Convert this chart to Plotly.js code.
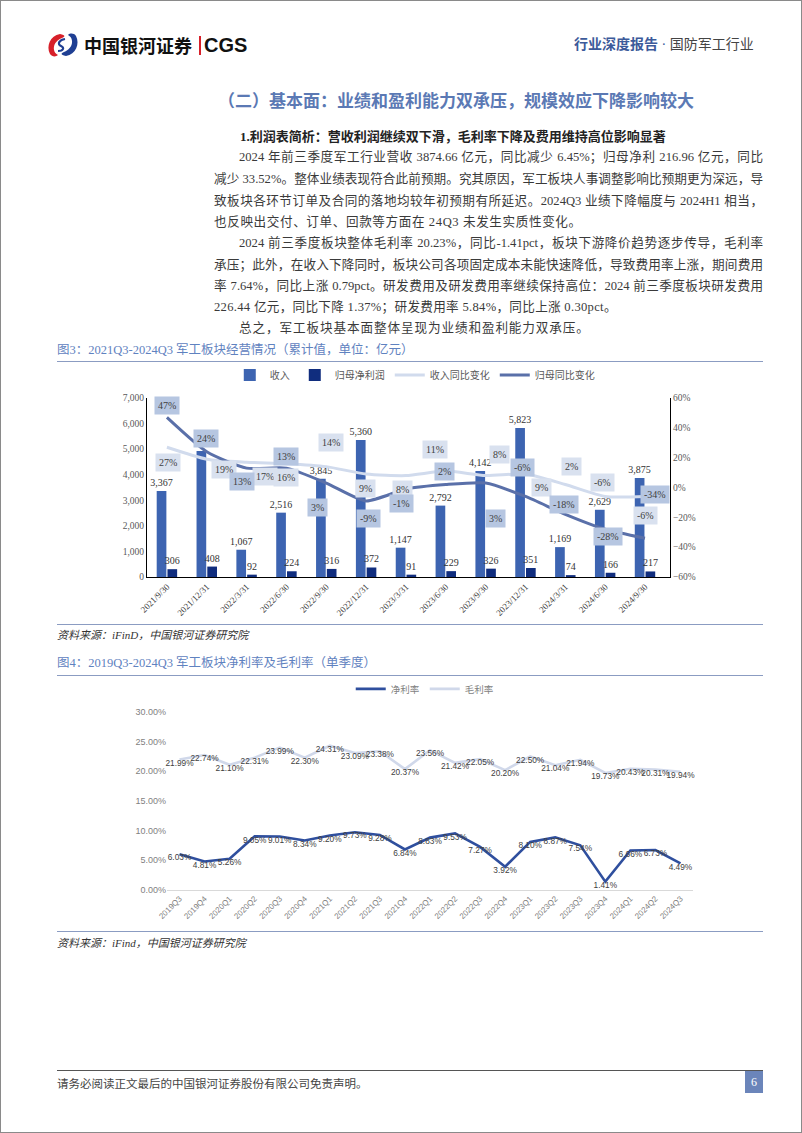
<!DOCTYPE html>
<html>
<head>
<meta charset="utf-8">
<script src="https://cdn.plot.ly/plotly-3.0.1.min.js"></script>
<style>
  html, body { margin: 0; padding: 0; background: #fff; }
  #page { position: relative; width: 802px; height: 1133px; overflow: hidden;
          font-family: "Liberation Serif", "Noto Sans CJK SC", serif; color: #333; }
  #frame { position: absolute; left: 0; top: 0; width: 800px; height: 1131px; border: 1px solid #8a8a8a; }
  .abs { position: absolute; white-space: nowrap; }
  .ln { position: absolute; font-size: 12.6px; line-height: 16px; color: #3a3a3a; white-space: nowrap; }
  .j { text-align: justify; text-align-last: justify; white-space: normal; }
  .rule { position: absolute; left: 57px; width: 706px; height: 0; border-top: 1.5px solid #8b9cc2; }
  .figt { position: absolute; left: 57px; font-size: 12.5px; line-height: 16px; color: #5f82c0; }
  .src { position: absolute; left: 57px; font-size: 11px; line-height: 14px; color: #333; font-style: italic; }
  .chart { position: absolute; left: 0; }
</style>
</head>
<body>
<div id="page">
  <div id="frame"></div>

  <!-- header -->
  <svg class="abs" style="left:46px; top:32px" width="34" height="26" viewBox="0 0 34 26">
    <path d="M14 2 C4 4 0 14 4 22 C6 25 10 25 12 23 C6 20 6 10 16 6 C19 5 20 3 14 2 Z" fill="#d7202a"/>
    <path d="M20 24 C30 22 34 12 30 4 C28 1 24 1 22 3 C28 6 28 16 18 20 C15 21 14 23 20 24 Z" fill="#1f3f93"/>
    <path d="M19 7 C13 8 11 12 15 14 C19 16 17 19 12 19" stroke="#1f3f93" stroke-width="2.2" fill="none"/>
  </svg>
  <div class="abs" style="left:84px; top:33px; font:bold 18px 'Noto Sans CJK SC'; line-height:24px; color:#111">中国银河证券</div>
  <div class="abs" style="left:199px; top:36px; width:1.5px; height:19px; background:#d7202a"></div>
  <div class="abs" style="left:204px; top:32px; font:bold 20px 'Liberation Sans'; line-height:26px; color:#111">CGS</div>
  <div class="abs" style="left:574px; top:36px; font-size:14px; line-height:18px">
    <span style="color:#3c5a9a; font-weight:bold">行业深度报告</span><span style="color:#3c5a9a"> · </span><span style="color:#444">国防军工行业</span>
  </div>

  <!-- section text -->
  <div class="abs" style="left:218px; top:91px; font-size:17px; line-height:22px; font-weight:bold; color:#5b79b4">（二）基本面：业绩和盈利能力双承压，规模效应下降影响较大</div>
  <div class="abs" style="left:240px; top:128px; font-size:13px; line-height:17px; font-weight:bold; color:#222">1.利润表简析：营收利润继续双下滑，毛利率下降及费用维持高位影响显著</div>

  <div class="ln j" style="left:239px; width:524px; top:149px">2024 年前三季度军工行业营收 3874.66 亿元，同比减少 6.45%；归母净利 216.96 亿元，同比</div>
  <div class="ln j" style="left:214px; width:549px; top:171px">减少 33.52%。整体业绩表现符合此前预期。究其原因，军工板块人事调整影响比预期更为深远，导</div>
  <div class="ln j" style="left:214px; width:549px; top:193px">致板块各环节订单及合同的落地均较年初预期有所延迟。2024Q3 业绩下降幅度与 2024H1 相当，</div>
  <div class="ln" style="left:214px; top:214px; letter-spacing:0.6px">也反映出交付、订单、回款等方面在 24Q3 未发生实质性变化。</div>
  <div class="ln j" style="left:239px; width:524px; top:235px">2024 前三季度板块整体毛利率 20.23%，同比-1.41pct，板块下游降价趋势逐步传导，毛利率</div>
  <div class="ln j" style="left:214px; width:549px; top:257px">承压；此外，在收入下降同时，板块公司各项固定成本未能快速降低，导致费用率上涨，期间费用</div>
  <div class="ln j" style="left:214px; width:549px; top:278px">率 7.64%，同比上涨 0.79pct。研发费用及研发费用率继续保持高位：2024 前三季度板块研发费用</div>
  <div class="ln" style="left:214px; top:299px; letter-spacing:0.3px">226.44 亿元，同比下降 1.37%；研发费用率 5.84%，同比上涨 0.30pct。</div>
  <div class="ln" style="left:239px; top:320px; letter-spacing:0.9px">总之，军工板块基本面整体呈现为业绩和盈利能力双承压。</div>

  <!-- figure 3 -->
  <div class="figt" style="top:342px">图3：2021Q3-2024Q3 军工板块经营情况（累计值，单位：亿元）</div>
  <div class="rule" style="top:361px"></div>
  <div id="chart1" class="chart" style="top:345px"></div>
  <div class="rule" style="top:624px"></div>
  <div class="src" style="top:628px">资料来源：iFinD，中国银河证券研究院</div>

  <!-- figure 4 -->
  <div class="figt" style="top:655px">图4：2019Q3-2024Q3 军工板块净利率及毛利率（单季度）</div>
  <div class="rule" style="top:675px"></div>
  <div id="chart2" class="chart" style="top:660px"></div>
  <div class="rule" style="top:931px"></div>
  <div class="src" style="top:936px">资料来源：iFind，中国银河证券研究院</div>

  <!-- footer -->
  <div class="abs" style="left:57px; top:1070px; width:706px; border-top:1px solid #555"></div>
  <div class="abs" style="left:57px; top:1077px; font-size:11.5px; line-height:15px; color:#444">请务必阅读正文最后的中国银河证券股份有限公司免责声明。</div>
  <div class="abs" style="left:745px; top:1071px; width:18px; height:22px; background:#6b85ba; color:#fff; font-size:12px; line-height:22px; text-align:center">6</div>
</div>

<script>
// ---------- data: figure 3 (cumulative, 亿元) ----------
const periods = ['2021/9/30', '2021/12/31', '2022/3/31', '2022/6/30', '2022/9/30', '2022/12/31', '2023/3/31',
                 '2023/6/30', '2023/9/30', '2023/12/31', '2024/3/31', '2024/6/30', '2024/9/30'];
const revenue = [3367, 4930, 1067, 2516, 3845, 5360, 1147, 2792, 4142, 5823, 1169, 2629, 3875];
const netProfit = [306, 408, 92, 224, 316, 372, 91, 229, 326, 351, 74, 166, 217];
const revenueYoY = [27, 19, 17, 16, 14, 9, 8, 11, 8, 9, 2, -6, -6];      // %
const profitYoY = [47, 24, 13, 13, 3, -9, -1, 2, 3, -6, -18, -28, -34];   // %

// ---------- data: figure 4 (single quarter, %) ----------
const quarters = ['2019Q3', '2019Q4', '2020Q1', '2020Q2', '2020Q3', '2020Q4', '2021Q1', '2021Q2', '2021Q3', '2021Q4',
                  '2022Q1', '2022Q2', '2022Q3', '2022Q4', '2023Q1', '2023Q2', '2023Q3', '2023Q4', '2024Q1', '2024Q2', '2024Q3'];
const netMargin = [6.03, 4.81, 5.26, 9.05, 9.01, 8.34, 9.20, 9.73, 9.28, 6.84,
                   8.83, 9.53, 7.27, 3.92, 8.10, 8.87, 7.54, 1.41, 6.66, 6.73, 4.49];
const grossMargin = [21.99, 22.74, 21.10, 22.31, 23.99, 22.30, 24.31, 23.09, 23.38, 20.37,
                     23.56, 21.42, 22.05, 20.20, 22.50, 21.04, 21.94, 19.73, 20.43, 20.31, 19.94];

// label placement for the yoy boxes (pixel offsets, [right, down]) - they sit where the report put them
const revLabelShift = [[1, 15], [17, 10], [18, 14], [0, 14], [5, -24], [-1, 14], [-3, 14],
                       [-11, -22], [14, -21], [16, 13], [6, -18], [-3, -14], [0, 19]];
const profitLabelShift = [[0, -12], [-1, -13], [-5, 13], [0, -12], [-9, 24], [2, 18], [-4, 15],
                          [-1, -13], [10, 35], [-3, -29], [-1, -10], [3, 7], [10, -44]];

const serif = 'Liberation Serif, Noto Sans CJK SC, serif';
const sans = 'Liberation Sans, Noto Sans CJK SC, sans-serif';

// ---------- chart 1 ----------
const fmt = v => v.toLocaleString('en-US');
const revenueText = revenue.map(fmt);
revenueText[1] = '';   // hidden behind the 24% box in the report

const traces1 = [
    {
        type: 'bar', name: '收入', x: periods, y: revenue,
        marker: { color: '#3d64b1' },
        text: revenueText, textposition: 'outside', cliponaxis: false,
        textfont: { family: serif, size: 10, color: '#333' }
    },
    {
        type: 'bar', name: '归母净利润', x: periods, y: netProfit,
        marker: { color: '#102d7e' },
        text: netProfit.map(fmt), textposition: 'outside', cliponaxis: false,
        textfont: { family: serif, size: 10, color: '#333' }
    },
    {
        type: 'scatter', mode: 'lines', name: '收入同比变化', x: periods, y: revenueYoY, yaxis: 'y2',
        line: { color: '#d1dbed', width: 3, shape: 'spline', smoothing: 0.6 }
    },
    {
        type: 'scatter', mode: 'lines', name: '归母同比变化', x: periods, y: profitYoY, yaxis: 'y2',
        line: { color: '#5a70a9', width: 3, shape: 'spline', smoothing: 0.6 }
    }
];

const boxes = [];
periods.forEach((p, i) => {
    boxes.push({
        x: p, y: revenueYoY[i], xref: 'x', yref: 'y2', text: revenueYoY[i] + '%', showarrow: false,
        xshift: revLabelShift[i][0], yshift: -revLabelShift[i][1],
        bgcolor: '#d9e1ef', borderpad: 3, font: { family: serif, size: 10, color: '#404040' }
    });
    boxes.push({
        x: p, y: profitYoY[i], xref: 'x', yref: 'y2', text: profitYoY[i] + '%', showarrow: false,
        xshift: profitLabelShift[i][0], yshift: -profitLabelShift[i][1],
        bgcolor: '#b6c6e1', borderpad: 3, font: { family: serif, size: 10, color: '#404040' }
    });
});

const layout1 = {
    width: 802, height: 277,
    margin: { l: 147, r: 132, t: 53, b: 45 },
    paper_bgcolor: 'rgba(0,0,0,0)', plot_bgcolor: 'rgba(0,0,0,0)',
    barmode: 'group', bargap: 0.46, bargroupgap: 0.1,
    uniformtext: { mode: false },
    showlegend: true,
    legend: { orientation: 'h', x: 0.512, xanchor: 'center', y: 1.128, yanchor: 'middle',
              font: { family: serif, size: 10, color: '#595959' }, itemwidth: 30, tracegroupgap: 0 },
    xaxis: { type: 'category', tickangle: -45, showline: true, linecolor: '#000', linewidth: 1,
             showgrid: false, ticks: '', tickfont: { family: serif, size: 9, color: '#404040' } },
    yaxis: { range: [0, 7000], dtick: 1000, tickformat: ',d', showgrid: false, zeroline: false,
             showline: true, linecolor: '#000', linewidth: 1, ticks: '',
             tickfont: { family: serif, size: 9.5, color: '#595959' } },
    yaxis2: { overlaying: 'y', side: 'right', range: [-60, 60], dtick: 20, ticksuffix: '%',
              showgrid: false, zeroline: false, showline: true, linecolor: '#000', linewidth: 1, ticks: '',
              tickfont: { family: serif, size: 9.5, color: '#595959' } },
    annotations: boxes
};
traces1[0].constraintext = 'none';
traces1[1].constraintext = 'none';

Plotly.newPlot('chart1', traces1, layout1, { displayModeBar: false, staticPlot: true });

// ---------- chart 2 ----------
const pct = v => v.toFixed(2) + '%';
const traces2 = [
    {
        type: 'scatter', mode: 'lines+text', name: '净利率', x: quarters, y: netMargin,
        line: { color: '#2f4f9e', width: 2.6 },
        text: netMargin.map(pct), textposition: 'bottom center', cliponaxis: false,
        textfont: { family: sans, size: 8.3, color: '#404040' }
    },
    {
        type: 'scatter', mode: 'lines+text', name: '毛利率', x: quarters, y: grossMargin,
        line: { color: '#d0d8ea', width: 2.6 },
        text: grossMargin.map(pct), textposition: 'bottom center', cliponaxis: false,
        textfont: { family: sans, size: 8.3, color: '#404040' }
    }
];

const layout2 = {
    width: 802, height: 270,
    margin: { l: 167, r: 109, t: 52, b: 40 },
    paper_bgcolor: 'rgba(0,0,0,0)', plot_bgcolor: 'rgba(0,0,0,0)',
    showlegend: true,
    legend: { orientation: 'h', x: 0.49, xanchor: 'center', y: 1.13, yanchor: 'middle',
              font: { family: sans, size: 9.5, color: '#7f7f7f' }, itemwidth: 30 },
    xaxis: { type: 'category', range: [-0.5, 20.5], tickangle: -45, showline: true, linecolor: '#d9d9d9',
             linewidth: 1, showgrid: false, ticks: '', tickfont: { family: sans, size: 8, color: '#7f7f7f' } },
    yaxis: { range: [0, 30], dtick: 5, tickformat: '.2f', ticksuffix: '%', showgrid: false,
             zeroline: false, showline: false, ticks: '',
             tickfont: { family: sans, size: 9, color: '#7f7f7f' } }
};

Plotly.newPlot('chart2', traces2, layout2, { displayModeBar: false, staticPlot: true });
</script>
</body>
</html>
